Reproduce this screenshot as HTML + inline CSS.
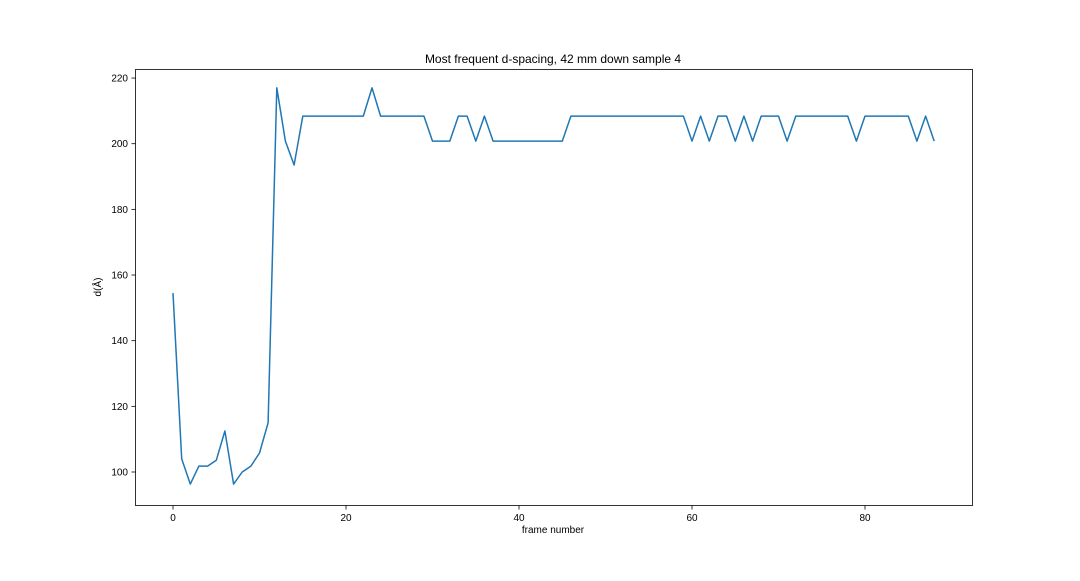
<!DOCTYPE html>
<html><head><meta charset="utf-8"><style>
body{margin:0;background:#fff;}
svg text{font-family:"Liberation Sans","DejaVu Sans",sans-serif;fill:#000;}
</style></head><body>
<svg id="chart" width="1080" height="576" viewBox="0 0 1080 576" xmlns="http://www.w3.org/2000/svg">
<rect width="1080" height="576" fill="#fff"/>
<text x="553" y="63" font-size="12" text-anchor="middle">Most frequent d-spacing, 42 mm down sample 4</text>
<text x="553" y="533" font-size="10" text-anchor="middle">frame number</text>
<text x="101" y="287" font-size="10" text-anchor="middle" transform="rotate(-90 101 287)">d(Å)</text>
<g id="ticks"></g>
<path id="series" fill="none" stroke="#1f77b4" stroke-width="1.5" stroke-linejoin="round"/>
<rect x="135.5" y="69.5" width="837" height="436" fill="none" stroke="#000" stroke-width="0.8"/>
</svg>
<script>
const values = [154.5,104,96.3,101.8,101.8,103.6,112.5,96.3,100,101.8,105.8,115,217,200.8,193.5,
208.4,208.4,208.4,208.4,208.4,208.4,208.4,208.4,217,208.4,208.4,208.4,208.4,208.4,208.4,
200.8,200.8,200.8,208.4,208.4,200.8,208.4,200.8,200.8,200.8,200.8,200.8,200.8,200.8,200.8,200.8,
208.4,208.4,208.4,208.4,208.4,208.4,208.4,208.4,208.4,208.4,208.4,208.4,208.4,208.4,
200.8,208.4,200.8,208.4,208.4,200.8,208.4,200.8,208.4,208.4,208.4,200.8,
208.4,208.4,208.4,208.4,208.4,208.4,208.4,200.8,208.4,208.4,208.4,208.4,208.4,208.4,200.8,208.4,200.8];
const xTicks = [0,20,40,60,80];
const yTicks = [100,120,140,160,180,200,220];
function xs(v){return 173 + v*8.65;}
function ys(v){return 472 - (v-100)*3.283;}
const svg = document.getElementById('chart');
const g = document.getElementById('ticks');
const NS='http://www.w3.org/2000/svg';
xTicks.forEach(t=>{
  const l=document.createElementNS(NS,'line');
  
  
  l.setAttribute('x1',xs(t));l.setAttribute('x2',xs(t));l.setAttribute('y1',505.5);l.setAttribute('y2',509.5);l.setAttribute('stroke','#000');l.setAttribute('stroke-width','0.8');
  g.appendChild(l);
  const tx=document.createElementNS(NS,'text');
  
  
  tx.setAttribute('x',xs(t));tx.setAttribute('y',521);tx.setAttribute('font-size','10');tx.setAttribute('text-anchor','middle');
  tx.textContent=t;g.appendChild(tx);
});
yTicks.forEach(t=>{
  const l=document.createElementNS(NS,'line');
  
  
  l.setAttribute('x1',131.5);l.setAttribute('x2',135.5);l.setAttribute('y1',ys(t));l.setAttribute('y2',ys(t));l.setAttribute('stroke','#000');l.setAttribute('stroke-width','0.8');
  g.appendChild(l);
  const tx=document.createElementNS(NS,'text');
  
  
  tx.setAttribute('x',128);tx.setAttribute('y',ys(t)+3.5);tx.setAttribute('font-size','10');tx.setAttribute('text-anchor','end');
  tx.textContent=t;g.appendChild(tx);
});
document.getElementById('series').setAttribute('d', values.map((v,i)=>(i?'L':'M')+xs(i).toFixed(1)+','+ys(v).toFixed(1)).join(' '));
</script>
</body></html>
